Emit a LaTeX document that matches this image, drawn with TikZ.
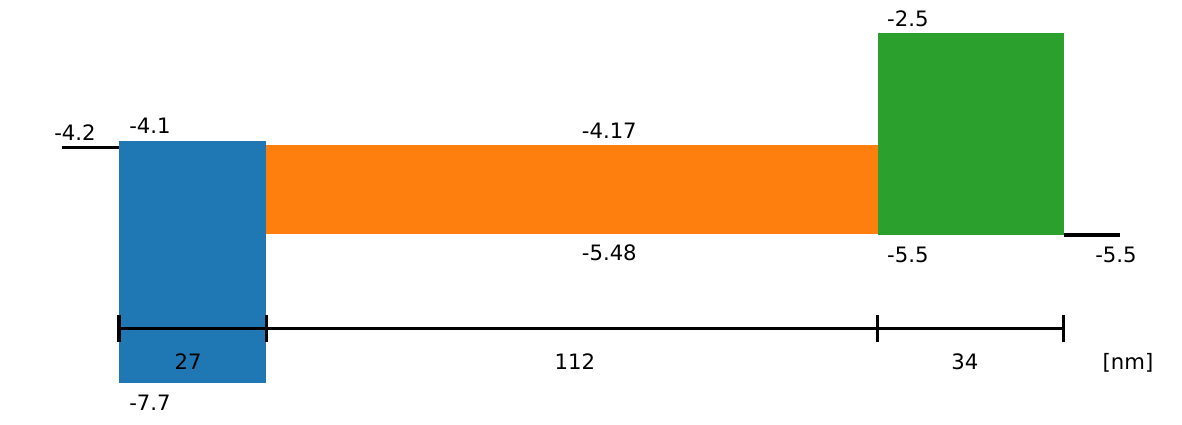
\documentclass[tikz,border=0pt]{standalone}
\usepackage{fontspec}
\setmainfont{DejaVu Sans}
\definecolor{tabblue}{HTML}{1F77B4}
\definecolor{taborange}{HTML}{FF7F0E}
\definecolor{tabgreen}{HTML}{2CA02C}
\newcommand{\layer}[5]
{\fill[#5] (#1,#3) rectangle (#2,#4);
}
\tikzset{
  level/.style={line width=2.3pt},
  lbl/.style={inner sep=0pt, anchor=base, font=\fontsize{15.9}{18}\selectfont},
}

\begin{document}
\begin{tikzpicture}[x={(4.095pt,0)},y={(0,50.5pt)}]
\useasboundingbox (-21.795,-8.3071) rectangle (194.689,-2.0098);

\layer{0}{27}{-4.1}{-7.7}{tabblue};
\layer{27}{139}{-4.17}{-5.48}{taborange};
\layer{139}{173}{-2.5}{-5.5}{tabgreen};

\draw[level] (-10.44,-4.2) -- (0,-4.2);
\draw[level] (173,-5.5) -- (183.4,-5.5);

% energies
\node[lbl] (wl) at (-8.06,-4.2) [yshift=5.25pt] {-4.2};
\node[lbl,anchor=base west] (eb) at (0,-4.1) [xshift=7.5pt,yshift=5.25pt] {-4.1};
\node[lbl] (eo) at (89.8,-4.17) [yshift=5.25pt] {-4.17};
\node[lbl,anchor=base west] (eg) at (139,-2.5) [xshift=6.75pt,yshift=5.25pt] {-2.5};
\node[lbl] (ho) at (89.8,-5.48) [yshift=-20.25pt] {-5.48};
\node[lbl,anchor=base west] (hg) at (139,-5.5) [xshift=6.75pt,yshift=-20.25pt] {-5.5};
\node[lbl] (wr) at (182.6,-5.5) [yshift=-20.25pt] {-5.5};
\node[lbl,anchor=base west] (hb) at (0,-7.7) [xshift=7.5pt,yshift=-20.25pt] {-7.7};

% thickness bar
\foreach \x/\n in {0/a,27/b,139/c,173/d}
		{\coordinate (tick\n) at (\x,-6.886);
		\draw[level] (tick\n) ++(0,-10pt) -- ++(0,20pt);
			};
\draw[level] (ticka) -- (tickd);
\foreach \x/\t in {12.64/27,83.5/112,154.9/34,184.8/{[nm]}}
		{\node[lbl] at (\x,-6.886) [yshift=-30.75pt] {\t};
			};

\end{tikzpicture}
\end{document}
